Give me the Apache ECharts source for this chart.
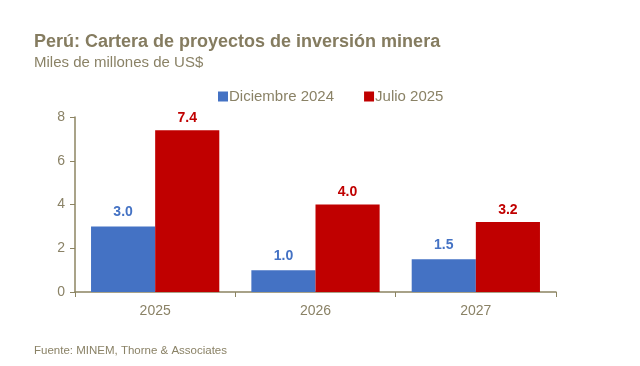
<!DOCTYPE html>
<html><head><meta charset="utf-8">
<script src="https://cdn.jsdelivr.net/npm/echarts@6/dist/echarts.min.js"></script>
<style>html,body{margin:0;padding:0;background:#fff}#c{width:640px;height:366px}</style>
</head><body><div id="c"></div>
<script>
const categories = ['2025', '2026', '2027'];
const dic2024 = [3.0, 1.0, 1.5];
const jul2025 = [7.4, 4.0, 3.2];
const yTicks = [0, 2, 4, 6, 8];

const txt = '#8a8266';
const axisCol = '#8c8462';
const chart = echarts.init(document.getElementById('c'));
chart.setOption({
  backgroundColor: '#fff',
  animation: false,
  textStyle: { fontFamily: 'Liberation Sans, Arial, sans-serif' },
  title: [
    { text: 'Perú: Cartera de proyectos de inversión minera', left: 29, top: 28,
      textStyle: { fontSize: 18, fontWeight: 'bold', color: '#857c60' } },
    { text: 'Miles de millones de US$', left: 29, top: 50,
      textStyle: { fontSize: 15, fontWeight: 'normal', color: txt } },
    { text: 'Fuente: MINEM, Thorne & Associates', left: 29, top: 340,
      textStyle: { fontSize: 11.5, fontWeight: 'normal', color: txt } }
  ],
  legend: {
    left: 213, top: 84, itemWidth: 10, itemHeight: 10, itemGap: 30,
    icon: 'rect',
    textStyle: { fontSize: 15, color: txt, padding: [0, 0, 0, -4] },
    data: ['Diciembre 2024', 'Julio 2025']
  },
  grid: { left: 75, right: 84, top: 117, bottom: 74 },
  xAxis: {
    type: 'category', data: categories,
    axisLine: { lineStyle: { color: axisCol, width: 1.5 } },
    axisTick: { show: true, length: 5, inside: false, lineStyle: { color: axisCol } },
    axisLabel: { fontSize: 14, color: txt, margin: 12 }
  },
  yAxis: {
    type: 'value', min: yTicks[0], max: yTicks[yTicks.length - 1], interval: 2,
    axisLine: { show: true, lineStyle: { color: axisCol, width: 1.5 } },
    axisTick: { show: true, length: 5, lineStyle: { color: axisCol } },
    splitLine: { show: false },
    axisLabel: { fontSize: 14, color: txt, margin: 10 }
  },
  series: [
    { name: 'Diciembre 2024', type: 'bar', data: dic2024, barGap: '0%', barCategoryGap: '20%',
      itemStyle: { color: '#4472C4' },
      label: { show: true, position: 'top', distance: 7, fontSize: 14, fontWeight: 'bold', color: '#4472C4',
        formatter: p => p.value.toFixed(1) } },
    { name: 'Julio 2025', type: 'bar', data: jul2025, barGap: '0%', barCategoryGap: '20%',
      itemStyle: { color: '#C00000' },
      label: { show: true, position: 'top', distance: 5, fontSize: 14, fontWeight: 'bold', color: '#C00000',
        formatter: p => p.value.toFixed(1) } }
  ]
});
</script></body></html>
